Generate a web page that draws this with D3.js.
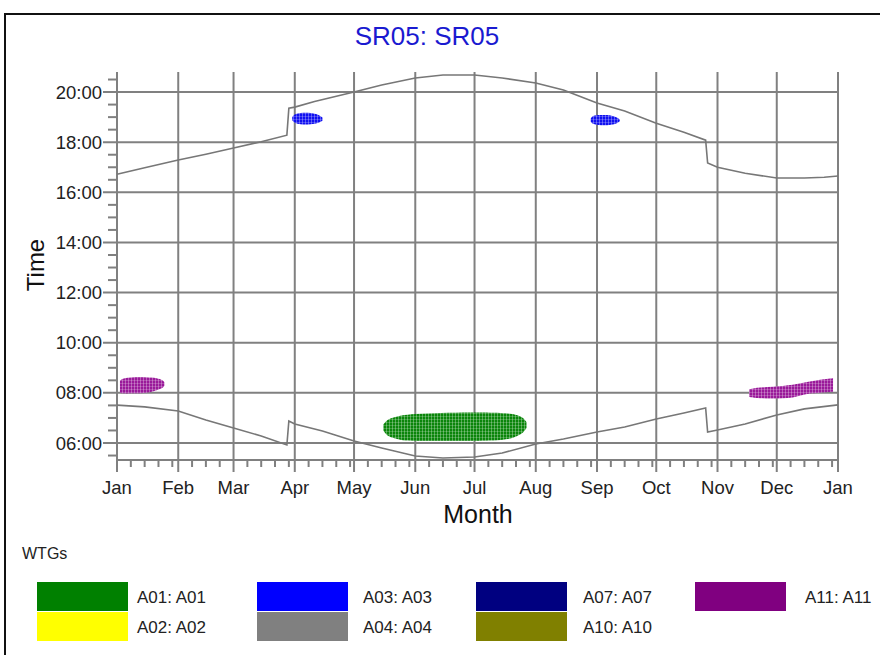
<!DOCTYPE html>
<html>
<head>
<meta charset="utf-8">
<script src="https://cdn.jsdelivr.net/npm/d3@7"></script>
<style>
  body { margin: 0; background: #fff; }
  svg { display: block; font-family: Arial, "Liberation Sans", sans-serif; }
</style>
</head>
<body>
<svg id="chart" width="880" height="655"></svg>
<script>
// months (day of year where each month starts)
const monthStarts = [0, 31, 59, 90, 120, 151, 181, 212, 243, 273, 304, 334, 365];
const monthLabels = ["Jan", "Feb", "Mar", "Apr", "May", "Jun", "Jul", "Aug", "Sep", "Oct", "Nov", "Dec", "Jan"];
const hourTicks = [6, 8, 10, 12, 14, 16, 18, 20];

// sunset / sunrise (hours)
const sunsetDays = [0, 14, 31, 45, 59, 73, 86, 87, 90, 100, 120, 134, 151, 165, 181, 195, 212, 226, 243, 257, 273, 287, 298, 299, 304, 318, 334, 348, 358, 365];
const sunsetHours = [16.72, 16.98, 17.29, 17.52, 17.77, 18.02, 18.28, 19.36, 19.4, 19.62, 20.0, 20.28, 20.56, 20.68, 20.68, 20.56, 20.36, 20.08, 19.56, 19.24, 18.76, 18.4, 18.08, 17.17, 17.0, 16.76, 16.57, 16.57, 16.6, 16.65];
const sunriseDays = [0, 14, 31, 45, 59, 73, 86, 87, 90, 104, 120, 134, 151, 165, 181, 195, 212, 226, 243, 257, 273, 287, 298, 299, 304, 318, 334, 348, 365];
const sunriseHours = [7.51, 7.44, 7.28, 6.92, 6.6, 6.28, 5.92, 6.88, 6.76, 6.48, 6.08, 5.8, 5.48, 5.4, 5.44, 5.6, 5.96, 6.16, 6.44, 6.64, 6.96, 7.2, 7.4, 6.44, 6.52, 6.76, 7.12, 7.36, 7.52];

// shadow flicker periods per turbine
const a01Days = [134.8, 137, 140, 144, 151, 164, 179, 194, 200, 203, 205.5, 207.3];
const a01Low = [6.5, 6.3, 6.2, 6.12, 6.08, 6.08, 6.08, 6.12, 6.2, 6.3, 6.42, 6.6];
const a01High = [6.74, 6.92, 7.02, 7.1, 7.16, 7.2, 7.22, 7.2, 7.16, 7.1, 7.0, 6.84];
const a03aDays = [88.7, 90, 93, 98, 102, 104];
const a03aLow = [18.88, 18.78, 18.72, 18.72, 18.78, 18.86];
const a03aHigh = [19.0, 19.1, 19.16, 19.16, 19.08, 18.98];
const a03bDays = [239.8, 241, 245, 250, 253, 254.5];
const a03bLow = [18.82, 18.74, 18.68, 18.7, 18.76, 18.84];
const a03bHigh = [18.94, 19.04, 19.08, 19.06, 18.98, 18.9];
const a11aDays = [1.5, 3, 8, 15, 20, 23, 24];
const a11aLow = [8.0, 7.98, 7.98, 8.0, 8.1, 8.2, 8.28];
const a11aHigh = [8.48, 8.56, 8.62, 8.62, 8.58, 8.5, 8.42];
const a11bDays = [320, 324, 332, 342, 350, 356, 362.5];
const a11bLow = [7.84, 7.8, 7.78, 7.82, 7.96, 8.0, 8.04];
const a11bHigh = [8.14, 8.2, 8.24, 8.32, 8.44, 8.52, 8.58];

const legendNames = ["A01: A01", "A02: A02", "A03: A03", "A04: A04", "A07: A07", "A10: A10", "A11: A11"];
const legendColors = ["#008000", "#ffff00", "#0000ff", "#808080", "#000080", "#808000", "#800080"];

const svg = d3.select("#chart");

// outer frame
svg.append("rect")
  .attr("x", 5).attr("y", 14)
  .attr("width", 900).attr("height", 700)
  .attr("fill", "none").attr("stroke", "#111").attr("stroke-width", 2);

svg.append("text")
  .attr("x", 427).attr("y", 45)
  .attr("text-anchor", "middle")
  .attr("font-size", 26)
  .attr("fill", "#1a1ad0")
  .text("SR05: SR05");

const x = d3.scaleLinear().domain([0, 365]).range([117, 838]);
const y = d3.scaleLinear().domain([5.322, 20.8]).range([460, 72]);

const gridColor = "#808080";

// textures for the flicker blobs
const defs = svg.append("defs");
function texture(id, color) {
  const p = defs.append("pattern")
    .attr("id", id).attr("patternUnits", "userSpaceOnUse")
    .attr("width", 3).attr("height", 3);
  p.append("rect").attr("width", 3).attr("height", 3).attr("fill", color);
  p.append("rect").attr("x", 2).attr("width", 1).attr("height", 3).attr("fill", "#fff").attr("opacity", 0.3);
  p.append("rect").attr("y", 2).attr("width", 3).attr("height", 1).attr("fill", "#fff").attr("opacity", 0.2);
}
texture("tex-green", "#0a850a");
texture("tex-blue", "#1010f0");
texture("tex-purple", "#9a1a9a");

// vertical grid lines (months) + ticks
svg.append("g").selectAll("line")
  .data(monthStarts)
  .enter().append("line")
  .attr("x1", d => x(d)).attr("x2", d => x(d))
  .attr("y1", y.range()[1]).attr("y2", 472)
  .attr("stroke", gridColor).attr("stroke-width", 2);

// minor x ticks (8th, 15th, 22nd, 29th)
const minorDays = [];
monthStarts.slice(0, 12).forEach((m, i) => {
  [7, 14, 21, 28].forEach(k => { if (m + k < monthStarts[i + 1]) minorDays.push(m + k); });
});
svg.append("g").selectAll("line")
  .data(minorDays)
  .enter().append("line")
  .attr("x1", d => x(d)).attr("x2", d => x(d))
  .attr("y1", 460).attr("y2", 467)
  .attr("stroke", gridColor).attr("stroke-width", 2);

// horizontal grid lines
svg.append("g").selectAll("line")
  .data(hourTicks)
  .enter().append("line")
  .attr("x1", 103).attr("x2", x(365))
  .attr("y1", d => y(d)).attr("y2", d => y(d))
  .attr("stroke", gridColor).attr("stroke-width", 2);

// bottom axis line
svg.append("line")
  .attr("x1", x(0)).attr("x2", x(365))
  .attr("y1", y(5.322)).attr("y2", y(5.322))
  .attr("stroke", gridColor).attr("stroke-width", 2);

// minor y ticks every half hour
const minorHours = d3.range(5.5, 20.8, 0.5).filter(h => hourTicks.indexOf(h) < 0);
svg.append("g").selectAll("line")
  .data(minorHours)
  .enter().append("line")
  .attr("x1", 108).attr("x2", x(0))
  .attr("y1", d => y(d)).attr("y2", d => y(d))
  .attr("stroke", gridColor).attr("stroke-width", 2);

// y labels
svg.append("g").selectAll("text")
  .data(hourTicks)
  .enter().append("text")
  .attr("x", 102).attr("y", d => y(d) + 6.5)
  .attr("text-anchor", "end")
  .attr("font-size", 18.5).attr("fill", "#222")
  .text(d => d3.format("02")(d) + ":00");

// x labels
svg.append("g").selectAll("text")
  .data(monthStarts)
  .enter().append("text")
  .attr("x", d => x(d)).attr("y", 494)
  .attr("text-anchor", "middle")
  .attr("font-size", 18.5).attr("fill", "#222")
  .text((d, i) => monthLabels[i]);

svg.append("text")
  .attr("x", 478).attr("y", 523)
  .attr("text-anchor", "middle")
  .attr("font-size", 25).attr("fill", "#111")
  .text("Month");

svg.append("text")
  .attr("transform", "translate(44,265) rotate(-90)")
  .attr("text-anchor", "middle")
  .attr("font-size", 24).attr("fill", "#111")
  .text("Time");

// sunrise / sunset lines
const line = d3.line()
  .x(d => x(d[0])).y(d => y(d[1]));
[[sunsetDays, sunsetHours], [sunriseDays, sunriseHours]].forEach(([ds, hs]) => {
  svg.append("path")
    .datum(ds.map((d, i) => [d, hs[i]]))
    .attr("d", line)
    .attr("fill", "none")
    .attr("stroke", "#777").attr("stroke-width", 1.6);
});

// flicker blobs
const area = d3.area()
  .curve(d3.curveCatmullRom)
  .x(d => x(d[0])).y0(d => y(d[1])).y1(d => y(d[2]));
const blobs = [
  [a01Days, a01Low, a01High, "tex-green"],
  [a03aDays, a03aLow, a03aHigh, "tex-blue"],
  [a03bDays, a03bLow, a03bHigh, "tex-blue"],
  [a11aDays, a11aLow, a11aHigh, "tex-purple"],
  [a11bDays, a11bLow, a11bHigh, "tex-purple"]
];
blobs.forEach(([ds, lo, hi, tex]) => {
  svg.append("path")
    .datum(ds.map((d, i) => [d, lo[i], hi[i]]))
    .attr("d", area)
    .attr("fill", "url(#" + tex + ")");
});

// legend
svg.append("text")
  .attr("x", 22).attr("y", 559)
  .attr("font-size", 16).attr("fill", "#222")
  .text("WTGs");

const legCols = [37, 257, 476, 695];
const legTextX = [137, 363, 583, 805];
const legRows = [582, 612];
const legPos = (i) => (i < 6 ? [Math.floor(i / 2), i % 2] : [3, 0]); // column-major, two rows
const leg = svg.append("g").selectAll("g")
  .data(legendNames)
  .enter().append("g");
leg.append("rect")
  .attr("x", (d, i) => legCols[legPos(i)[0]])
  .attr("y", (d, i) => legRows[legPos(i)[1]])
  .attr("width", 91).attr("height", 29)
  .attr("fill", (d, i) => legendColors[i]);
leg.append("text")
  .attr("x", (d, i) => legTextX[legPos(i)[0]])
  .attr("y", (d, i) => legRows[legPos(i)[1]] + 21)
  .attr("font-size", 17).attr("fill", "#222")
  .text(d => d);
</script>
</body>
</html>
